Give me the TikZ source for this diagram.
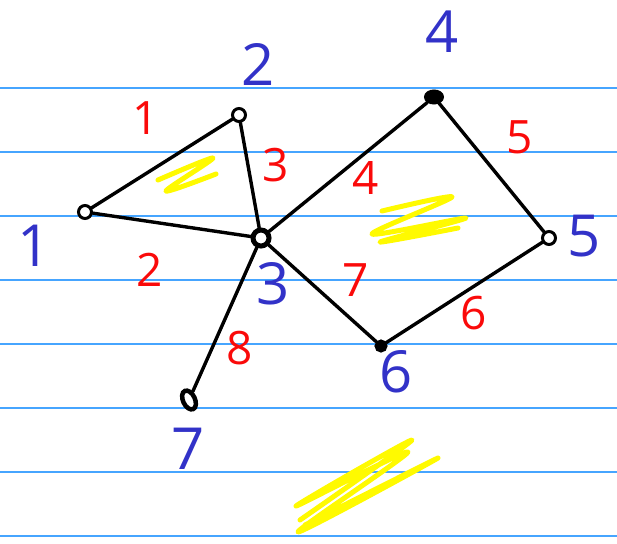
\documentclass[tikz,border=0pt]{standalone}
\usepackage{fontspec}
\setmainfont{Open Sans}
\usetikzlibrary{shapes.geometric}

\definecolor{ruled}{RGB}{70,165,255}
\definecolor{inkblue}{RGB}{50,50,200}
\definecolor{inkred}{RGB}{250,10,10}
\definecolor{marker}{RGB}{255,250,0}

\begin{document}
\begin{tikzpicture}[
      x=1pt, y=-1pt,
      vertex/.style={draw, circle, line width=3pt, fill=white,
                     minimum size=13pt, inner sep=0pt},
      edge/.style={draw, line width=3.4pt, line cap=round},
      nodeid/.style={text=inkblue, font=\fontsize{58}{58}\selectfont},
      weight/.style={text=inkred, font=\fontsize{46}{46}\selectfont},
      paperline/.style={draw=ruled, line width=1.4pt},
      scribble/.style={draw=marker, line width=5pt, line cap=round,
                       line join=round}
    ]
    \useasboundingbox (0,0) rectangle (617,543);

    % Linierung
    \foreach \yy in {88,152,...,536}
      \draw[paperline] (0,\yy) -- (617,\yy);

    % Markierungen
    \draw[scribble] plot[smooth] coordinates {(158,180) (213,158) (166,191) (216,174)};
    \draw[scribble] plot[smooth] coordinates {(382,211) (452,197) (372,234) (466,218)
      (380,242) (458,228)};
    \draw[scribble] plot[smooth] coordinates {(300,520) (412,440) (296,506) (408,452)
      (298,532) (438,458) (305,525) (420,468) (318,518)};

    % Knoten
    \node[vertex] (v1) at (85,212) {};
    \node[vertex] (v2) at (239,115) {};
    \node[vertex, line width=5pt, minimum size=16pt] (v3) at (261,238) {};
    \node[vertex, ellipse, fill=black, minimum width=17pt, minimum height=12pt]
      (v4) at (434,97) {};
    \node[vertex] (v5) at (549,238) {};
    \node[vertex, fill=black, minimum size=10pt] (v6) at (381,346) {};
    \node[vertex, ellipse, line width=4.5pt, minimum width=12pt, minimum height=20pt,
          rotate=25] (v7) at (189,400) {};

    % Kanten
    \draw[edge] (v1) -- (v2);
    \draw[edge] (v1) -- (v3);
    \draw[edge] (v2) -- (v3);
    \draw[edge] (v3) -- (v4);
    \draw[edge] (v4) -- (v5);
    \draw[edge] (v3) -- (v6);
    \draw[edge] (v5) -- (v6);
    \draw[edge] (v3) -- (v7);

    % Knotennummern
    \node[nodeid] (n1) at (34,246) {1};
    \node[nodeid] (n2) at (258,64) {2};
    \node[nodeid] (n3) at (273,284) {3};
    \node[nodeid] (n4) at (442,32) {4};
    \node[nodeid] (n5) at (584,236) {5};
    \node[nodeid] (n6) at (396,372) {6};
    \node[nodeid] (n7) at (188,449) {7};

    % Gewichte
    \node[weight] (w1) at (146,118) {1};
    \node[weight] (w2) at (150,270) {2};
    \node[weight] (w3) at (276,165) {3};
    \node[weight] (w4) at (366,178) {4};
    \node[weight] (w5) at (520,137) {5};
    \node[weight] (w6) at (474,313) {6};
    \node[weight] (w7) at (356,280) {7};
    \node[weight] (w8) at (240,348) {8};
  \end{tikzpicture}
\end{document}
